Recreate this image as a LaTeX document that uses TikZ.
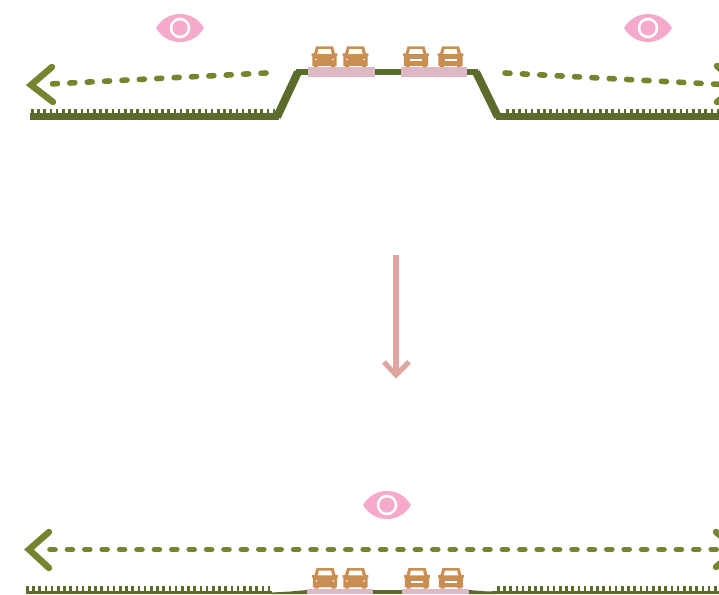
\documentclass[tikz,border=0pt]{standalone}
\definecolor{earth}{HTML}{5A6B2C}
\definecolor{sight}{HTML}{75842F}
\definecolor{eyepink}{HTML}{F5A9CB}
\definecolor{road}{HTML}{DCB9C4}
\definecolor{carc}{HTML}{C98F52}
\definecolor{arrowc}{HTML}{DFA6A0}
\tikzset{
  ground/.style={draw=earth,line width=6.5pt},
  slope/.style={draw=earth,line width=8pt,line join=bevel},
  thinground/.style={fill=earth,draw=none},
  roadbar/.style={fill=road,draw=none},
  sightline/.style={draw=sight,line width=5.6pt,line cap=round,dash pattern=on 5pt off 12.4pt},
  chevron/.style={draw=sight,line width=6.5pt,line cap=round,line join=miter},
  eyeicon/.pic={
    \fill[eyepink] (-24,0) .. controls (-13,-18.7) and (13,-18.7) .. (24,0)
                           .. controls (13,18.7) and (-13,18.7) .. (-24,0) -- cycle;
    \fill[white] (0,0) circle[radius=10.3];
    \fill[eyepink] (0,0) circle[radius=7.6];
  },
  carbody/.pic={
    \fill[carc] (-8.5,-20.5) -- (8.5,-20.5) -- (10.5,-13.5) -- (12.8,-13.5) -- (12.8,-11) -- (12.2,-11)
      -- (12.2,-1.2) -- (10.5,-1.2) -- (10.5,0) -- (6.5,0) -- (6.5,-1.2) -- (-6.5,-1.2) -- (-6.5,0) -- (-10.5,0) -- (-10.5,-1.2)
      -- (-12.2,-1.2) -- (-12.2,-11) -- (-12.8,-11) -- (-12.8,-13.5) -- (-10.5,-13.5) -- cycle;
    \fill[white] (-6,-17.8) -- (6,-17.8) -- (7.2,-13.2) -- (-7.2,-13.2) -- cycle;
  },
  carfront/.pic={
    \pic {carbody};
    \fill[white] (-8.5,-7.5) circle[radius=0.9];
    \fill[white] (8.5,-7.5) circle[radius=0.9];
  },
  carrear/.pic={
    \pic {carbody};
    \fill[white] (-6,-7.6) rectangle (6,-6);
  }
}
\newcommand{\tickrow}[3]{% from x, to x, base y
  \pgfmathsetmacro{\tksecond}{#1+6.2}
  \foreach \tx in {#1,\tksecond,...,#2}
    \fill[earth] (\tx,#3) rectangle ++(2.6,-5.5);
}
\begin{document}
\begin{tikzpicture}[x=1pt,y=-1pt]
\useasboundingbox (0,0) rectangle (719,594);
\clip (0,0) rectangle (719,594);
% --- top section
\pic at (180,28) {eyeicon};
\pic at (648,28) {eyeicon};
\tickrow{31}{274}{114}
\tickrow{506}{719}{114}
\draw[ground] (30,116.5) -- (279,116.5);
\draw[slope] (277,117) -- (298,72);
\draw[ground] (296,72) -- (312,72);
\draw[ground] (370,72) -- (405,72);
\draw[ground] (463,72) -- (478,72);
\draw[slope] (476,72) -- (498,117);
\draw[ground] (496,116.5) -- (725,116.5);
\fill[roadbar] (308,67) rectangle (375,77);
\fill[roadbar] (401,67) rectangle (467,77);
\pic at (324.5,67) {carfront};
\pic at (355.5,67) {carfront};
\pic at (416,67) {carrear};
\pic at (450.5,67) {carrear};
\coordinate (ls) at (266,73);
\coordinate (le) at (50,84);
\draw[sightline] (ls) -- (le);
\coordinate (rs) at (505,73);
\coordinate (re) at (722,84.5);
\draw[sightline] (rs) -- (re);
\draw[chevron] (52,67) -- (31,85) -- (53,102);
\draw[chevron] (717,66) -- (740,85) -- (717,102);
% --- transition arrow
\coordinate (as) at (396,255);
\coordinate (ae) at (396,376);
\draw[draw=arrowc,line width=5.5pt] (as) -- (ae);
\draw[draw=arrowc,line width=5pt,line join=miter] (384,362) -- (396,375) -- (409,362);
% --- bottom section
\pic at (387,505) {eyeicon};
\coordinate (bs) at (50,549.5);
\coordinate (be) at (722,549.5);
\draw[sightline] (bs) -- (be);
\draw[chevron] (49,532) -- (29,549.5) -- (49,568);
\draw[chevron] (716,532) -- (738,549.5) -- (716,567);
\tickrow{26}{272}{591}
\tickrow{497}{719}{591}
\fill[earth] (26,590.5) rectangle (272,594);
\fill[earth] (495,590.5) rectangle (719,594);
\fill[thinground] (272,592.5) -- (290,591.5) -- (307,590) -- (307,594) -- (272,594) -- cycle;
\fill[thinground] (469,590) -- (488,591.5) -- (496,591) -- (496,594) -- (469,594) -- cycle;
\fill[earth] (373,590) rectangle (402,594);
\fill[roadbar] (307,589) rectangle (373,594);
\fill[roadbar] (402,589) rectangle (469,594);
\pic at (325,588.5) {carfront};
\pic at (355.5,588.5) {carfront};
\pic at (417,588.5) {carrear};
\pic at (451,588.5) {carrear};
\end{tikzpicture}
\end{document}
